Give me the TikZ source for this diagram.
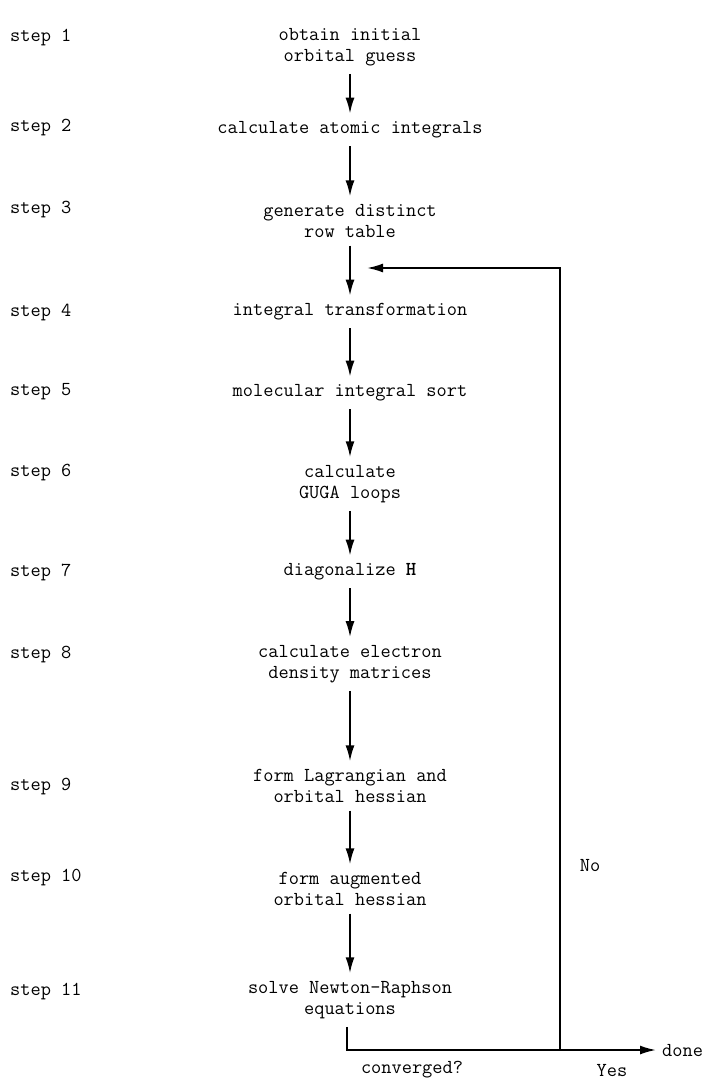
\documentclass[tikz,border=0pt]{standalone}
\usepackage{fontspec}
\usetikzlibrary{arrows.meta}

\begin{document}
\begin{tikzpicture}[x=1pt, y=-1pt,
    every node/.style={font=\ttfamily\fontsize{19.8}{21}\selectfont},
    stepbox/.style={align=center, inner sep=0pt, outer sep=8pt},
    steplabel/.style={anchor=west, inner sep=0pt},
    flow/.style={-{Latex[length=16pt,width=9pt]}, line width=1.9pt}]
                \useasboundingbox (0,0) rectangle (718,1079);
                % Steps
                \node[stepbox] (s1) at (350, 47) {obtain initial\\orbital guess};
                \node[stepbox] (s2) at (350, 130) {calculate atomic integrals};
                \node[stepbox] (s3) at (350, 221) {generate distinct\\row table};
                \node[stepbox] (s4) at (350, 312) {integral transformation};
                \node[stepbox] (s5) at (350, 393) {molecular integral sort};
                \node[stepbox] (s6) at (350, 484) {calculate\\GUGA loops};
                \node[stepbox] (s7) at (350, 572) {diagonalize \textbf{H}};
                \node[stepbox] (s8) at (350, 664) {calculate electron\\density matrices};
                \node[stepbox] (s9) at (350, 786) {form Lagrangian and\\orbital hessian};
                \node[stepbox] (s10) at (350, 889) {form augmented\\orbital hessian};
                \node[stepbox] (s11) at (350, 1000) {solve Newton-Raphson\\equations};

                % Labels
                \node[steplabel] (l1) at (10, 38) {step 1};
                \node[steplabel] (l2) at (10, 128) {step 2};
                \node[steplabel] (l3) at (10, 210) {step 3};
                \node[steplabel] (l4) at (10, 313) {step 4};
                \node[steplabel] (l5) at (10, 392) {step 5};
                \node[steplabel] (l6) at (10, 473) {step 6};
                \node[steplabel] (l7) at (10, 572) {step 7};
                \node[steplabel] (l8) at (10, 655) {step 8};
                \node[steplabel] (l9) at (10, 787) {step 9};
                \node[steplabel] (l10) at (10, 878) {step 10};
                \node[steplabel] (l11) at (10, 992) {step 11};

                % Convergence test
                \node[steplabel] (done) at (662, 1050) {done};
                \node (no) at (590, 865) {No};
                \node (yes) at (612, 1070) {Yes};
                \node (conv) at (412, 1070) {converged?};
                \coordinate (split) at (560, 1050);
                \coordinate (loopin) at (367, 268);

                % Edges
                \draw[flow] (s1) -- (s2);
                \draw[flow] (s2) -- (s3);
                \draw[flow] (s3) -- (s4);
                \draw[flow] (s4) -- (s5);
                \draw[flow] (s5) -- (s6);
                \draw[flow] (s6) -- (s7);
                \draw[flow] (s7) -- (s8);
                \draw[flow] (s8) -- (s9);
                \draw[flow] (s9) -- (s10);
                \draw[flow] (s10) -- (s11);
                \draw[flow] ([xshift=-3pt]s11.south) |- ([xshift=-6pt]done.west);
                \draw[flow] (split) |- (loopin);
            \end{tikzpicture}
\end{document}
